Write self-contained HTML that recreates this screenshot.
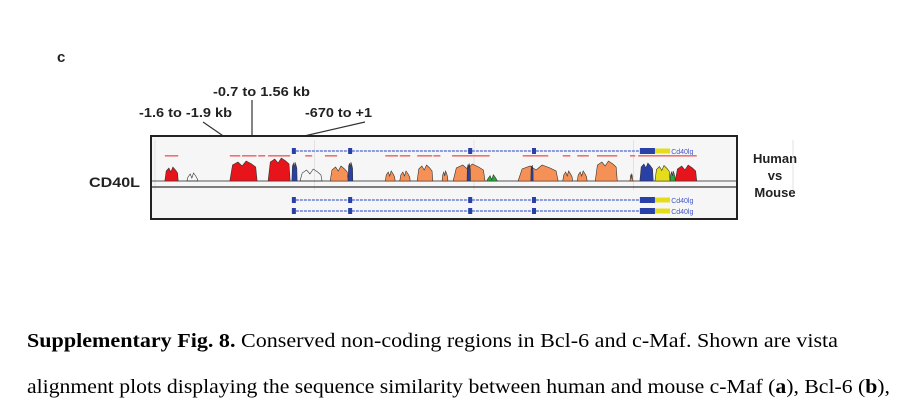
<!DOCTYPE html>
<html><head><meta charset="utf-8"><style>
html,body{margin:0;padding:0;background:#fff;}
svg{display:block;}
.lab{font-family:"Liberation Sans",sans-serif;font-weight:bold;fill:#222;}
.cap{font-family:"Liberation Serif",serif;fill:#000;}
</style></head><body>
<svg id="fig" width="900" height="403" viewBox="0 0 900 403" xmlns="http://www.w3.org/2000/svg">
<text class="lab" x="57" y="62" font-size="15">c</text>
<text class="lab" x="213" y="96" font-size="13" textLength="97" lengthAdjust="spacingAndGlyphs">-0.7 to 1.56 kb</text>
<text class="lab" x="139" y="117" font-size="13" textLength="93" lengthAdjust="spacingAndGlyphs">-1.6 to -1.9 kb</text>
<text class="lab" x="305" y="117" font-size="13" textLength="67" lengthAdjust="spacingAndGlyphs">-670 to +1</text>
<g stroke="#333" stroke-width="1.2">
<line x1="203" y1="122" x2="232" y2="142"/><line x1="252" y1="100" x2="252" y2="142"/><line x1="365" y1="122" x2="278" y2="142"/>
<line x1="230" y1="143" x2="240" y2="143"/><line x1="242" y1="143" x2="266" y2="143"/><line x1="268" y1="143" x2="291" y2="143"/>
</g>
<text class="lab" x="89" y="187" font-size="14" textLength="51" lengthAdjust="spacingAndGlyphs">CD40L</text>
<g class="lab" font-size="13" text-anchor="middle">
<text x="775" y="163">Human</text><text x="775" y="180">vs</text><text x="775" y="197">Mouse</text>
</g>
<rect x="151" y="136" width="586" height="83" fill="#f6f6f6" stroke="#222" stroke-width="2"/>
<g id="plot"></g>
<text class="cap" x="27" y="347" font-size="20" textLength="811" lengthAdjust="spacingAndGlyphs"><tspan font-weight="bold">Supplementary Fig. 8.</tspan>  Conserved non-coding regions in Bcl-6 and c-Maf.  Shown are vista</text>
<text class="cap" x="27" y="393" font-size="20" textLength="863" lengthAdjust="spacingAndGlyphs">alignment plots displaying the sequence similarity between human and mouse c-Maf (<tspan font-weight="bold">a</tspan>), Bcl-6 (<tspan font-weight="bold">b</tspan>),</text>
</svg>
<script>
// conservation peaks: start, end (track position 0-100), height (%), type
const peakStart=[1.7,5.5,12.9,19.5,23.6,25,30.2,33.3,39.7,42.2,45.2,49.5,51.4,53.8,57.2,62.6,64.8,70.3,72.8,75.9,81.9,83.6,86.2,88.8,89.7];
const peakEnd=[4.0,7.4,17.6,23.3,24.5,28.8,33.3,34.1,41.4,44,47.9,50.5,56.9,54.4,59.1,69.5,65.2,72,74.5,79.7,82.4,85.9,88.8,89.7,93.4];
const peakHeight=[56,32,80,92,75,48,60,75,40,40,64,40,68,70,25,64,64,40,40,80,30,72,62,40,64];
const peakType=["red","white","red","red","blue","white","orange","blue","orange","orange","orange","orange","orange","blue","green","orange","blue","orange","orange","orange","orange","blue","yellow","green","red"];
const colors={red:"#e8141b",orange:"#f59156",blue:"#2940a8",yellow:"#e5dc1c",green:"#2aa63a",white:"none"};
const exonPos=[23.6,33.3,54,65];
const csStart=[1.7,12.9,15,17.8,19.5,25.9,29.3,39.7,42.2,45.2,48,51.2,63.4,70.3,72.8,76.2,81.9,83.3];
const csEnd=[4,14.7,17.5,19,23.3,27.1,31.4,41.9,44,47.8,49.2,57.7,67.8,71.6,74.8,79.7,82.8,93.4];
const x=v=>155+v*5.8, y=h=>181-h*0.25;
const g=document.getElementById('plot');
const NS="http://www.w3.org/2000/svg";
function mk(t,a){const e=document.createElementNS(NS,t);for(const k in a)e.setAttribute(k,a[k]);g.appendChild(e);return e;}
for(let i=0;i<6;i++){const l=mk('line',{x1:x(i*27.5),x2:x(i*27.5),y1:140,y2:190,stroke:'#e2e2e2'});

}
const bl=mk('line',{x1:152,x2:736,y1:181,y2:181,stroke:'#555','stroke-width':1});


const ax=mk('line',{x1:152,x2:736,y1:187,y2:187,stroke:'#333','stroke-width':1.2});


for(let i=0;i<peakStart.length;i++){
  const a=x(peakStart[i]),b=x(peakEnd[i]),t=y(peakHeight[i]),w=b-a;
  const d=`M${a},181 L${a+w*0.1},${t+4} L${a+w*0.3},${t+1} L${a+w*0.45},${t+5} L${a+w*0.6},${t} L${a+w*0.8},${t+3} L${b-w*0.05},${t+6} L${b},181 Z`;
  const p=mk('path',{d:d,fill:colors[peakType[i]],stroke:'#333','stroke-width':0.6});
  
  
}
[151,200,211].forEach((ty)=>{
  const s=mk('line',{x1:x(23.6),x2:x(83.6),y1:ty,y2:ty,stroke:'#6a7fd8','stroke-width':1.5,'stroke-dasharray':'3 1'});
  
  
  exonPos.forEach((e)=>{const r=mk('rect',{x:x(e),y:ty-3,width:4,height:6,fill:'#2940a8'});
    
    });
  const r2=mk('rect',{x:x(83.6),y:ty-3,width:x(86.2)-x(83.6),height:6,fill:'#2940a8'});
  
  
  const u=mk('rect',{x:x(86.2),y:ty-2.5,width:x(88.8)-x(86.2),height:5,fill:'#e5dc1c'});
  
  
  const tx=mk('text',{x:x(89),y:ty+3,'font-size':7,fill:'#4455cc','font-family':'Liberation Sans'});tx.textContent='Cd40lg';
  
  
});
for(let i=0;i<csStart.length;i++){const r=mk('rect',{x:x(csStart[i]),y:155,width:x(csEnd[i])-x(csStart[i]),height:1.6,fill:'#f07070'});
  
  }
</script>
</body></html>
